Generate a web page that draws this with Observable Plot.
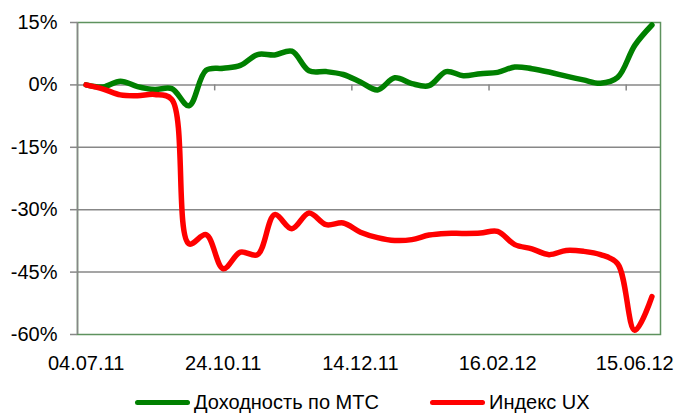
<!DOCTYPE html>
<html>
<head>
<meta charset="utf-8">
<script src="https://cdn.jsdelivr.net/npm/d3@7"></script>
<script src="https://cdn.jsdelivr.net/npm/@observablehq/plot@0.6"></script>
<style>
  html, body { margin: 0; padding: 0; background: #fff; }
  #chart { width: 679px; height: 420px; font-family: "Liberation Sans", Arial, sans-serif; }
  .legend { height: 36px; position: relative; font-size: 20px; color: #000; }
  .item { position: absolute; top: 0; height: 36px; display: flex; align-items: center; }
  .sw { width: 55px; height: 5px; border-radius: 3px; margin-right: 4px; }
</style>
</head>
<body>
<div id="chart"></div>
<script>
// Доходность по МТС (%), 34 observation points
const mtsReturn = [0, -0.5, 0.9, -0.4, -1.1, -0.9, -5.0, 3.5, 4.0, 4.7,
  7.3, 7.2, 8.1, 3.4, 3.2, 2.5, 0.7, -1.2, 1.7, 0.3,
  -0.2, 3.2, 2.2, 2.7, 3.0, 4.3, 3.9, 3.1, 2.1, 1.2,
  0.4, 1.8, 9.5, 14.4];
// Индекс UX (%)
const uxIndex = [0, -1.0, -2.4, -2.6, -2.3, -3.5, -38.2, -36.0, -44.2, -40.2,
  -40.8, -31.2, -34.6, -30.8, -33.6, -33.2, -35.4, -36.7, -37.4, -37.2,
  -36.1, -35.7, -35.7, -35.6, -35.2, -38.4, -39.4, -40.8, -39.8, -40.0,
  -40.8, -43.0, -59.0, -50.9];
const tickIndex = [0, 8, 16, 24, 32];
const tickLabels = ["04.07.11", "24.10.11", "14.12.11", "16.02.12", "15.06.12"];
const yTicks = [15, 0, -15, -30, -45, -60];
const gridValues = [0, -15, -30, -45];
const seriesNames = ["Доходность по МТС", "Индекс UX"];
const seriesColors = ["#008000", "#ff0000"];

const n = mtsReturn.length;
const greenData = mtsReturn.map((v, i) => ({i, v}));
const redData = uxIndex.map((v, i) => ({i, v}));
const boundaries = [8, 16, 24, 32].map(k => k - 0.5);
const gray = "#878787";

const plot = Plot.plot({
  width: 679,
  height: 384,
  marginLeft: 77,
  marginRight: 19,
  marginTop: 22,
  marginBottom: 50,
  style: {fontFamily: "'Liberation Sans', Arial, sans-serif", fontSize: "20px", color: "#000", background: "#fff"},
  x: {domain: [-0.5, n - 0.5]},
  y: {domain: [-60, 15]},
  marks: [
    Plot.gridY(gridValues, {stroke: gray, strokeOpacity: 1, strokeWidth: 1.5}),
    Plot.frame({stroke: "#5e925e", strokeWidth: 1.5}),
    Plot.ruleX([-0.5], {stroke: gray, strokeWidth: 1.5}),
    Plot.ruleX(boundaries, {x: d => d, y1: 0, y2: 0, insetBottom: -6, stroke: gray, strokeWidth: 1.5}),
    Plot.axisY({ticks: yTicks, tickFormat: d => d + "%", tickSize: 7, tickPadding: 13, stroke: gray, strokeWidth: 1.5, fontSize: 20, label: null}),
    Plot.axisX({ticks: tickIndex, tickFormat: (d) => tickLabels[tickIndex.indexOf(d)], tickSize: 0, tickPadding: 21, fontSize: 20, label: null}),
    Plot.line(greenData, {x: "i", y: "v", stroke: seriesColors[0], strokeWidth: 5.5, curve: "catmull-rom", strokeLinecap: "round", strokeLinejoin: "round"}),
    Plot.line(redData, {x: "i", y: "v", stroke: seriesColors[1], strokeWidth: 5.5, curve: "catmull-rom", strokeLinecap: "round", strokeLinejoin: "round"})
  ]
});

const chart = document.getElementById("chart");
chart.appendChild(plot);
const legend = document.createElement("div");
legend.className = "legend";
const lefts = [135, 430];
seriesNames.forEach((name, k) => {
  const it = document.createElement("div");
  it.className = "item";
  it.style.left = lefts[k] + "px";
  const sw = document.createElement("span");
  sw.className = "sw";
  sw.style.background = seriesColors[k];
  const tx = document.createElement("span");
  tx.textContent = name;
  it.appendChild(sw);
  it.appendChild(tx);
  legend.appendChild(it);
});
chart.appendChild(legend);
</script>
</body>
</html>
